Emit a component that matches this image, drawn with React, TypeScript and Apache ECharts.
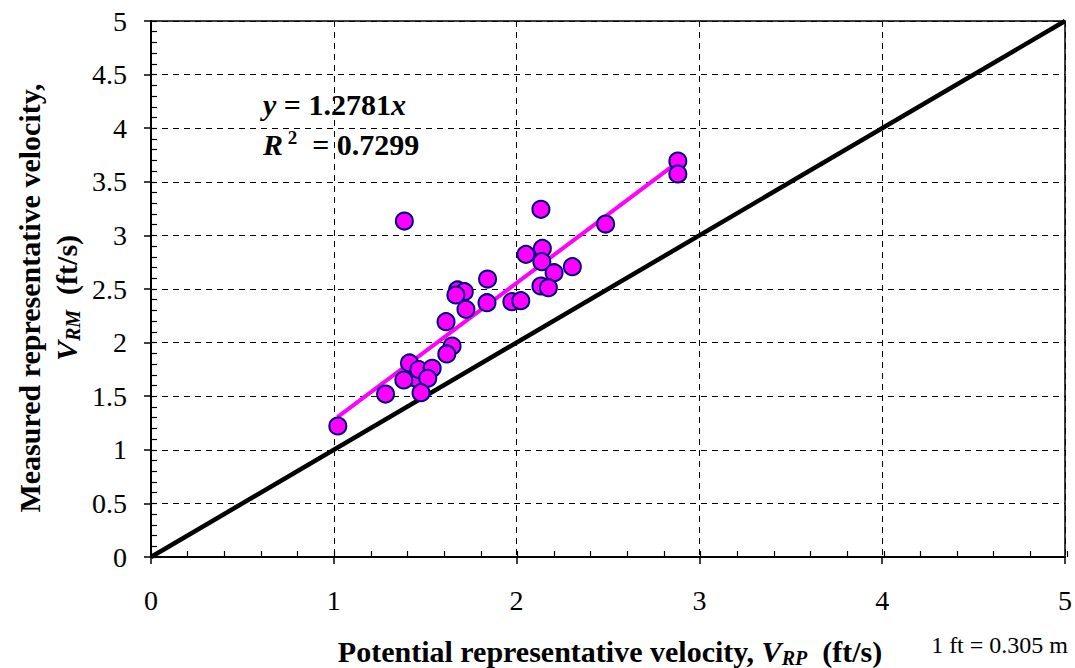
import React, { useEffect, useRef } from "react";
import * as echarts from "echarts";

const xTicks = [0, 1, 2, 3, 4, 5];
const yTicks = [0, 0.5, 1, 1.5, 2, 2.5, 3, 3.5, 4, 4.5, 5];

const measuredPoints: [number, number][] = [
  [1.386, 3.134],
  [2.133, 3.243],
  [2.487, 3.106],
  [2.882, 3.694],
  [2.882, 3.573],
  [2.051, 2.823],
  [2.141, 2.879],
  [2.138, 2.755],
  [2.205, 2.652],
  [2.305, 2.708],
  [1.841, 2.593],
  [1.677, 2.491],
  [1.714, 2.475],
  [1.668, 2.444],
  [1.723, 2.31],
  [1.838, 2.372],
  [1.974, 2.382],
  [2.023, 2.391],
  [2.133, 2.528],
  [2.174, 2.512],
  [1.614, 2.195],
  [1.647, 1.968],
  [1.618, 1.894],
  [1.414, 1.81],
  [1.45, 1.667],
  [1.465, 1.748],
  [1.538, 1.76],
  [1.383, 1.651],
  [1.514, 1.667],
  [1.477, 1.533],
  [1.283, 1.52],
  [1.022, 1.222],
];

const fitLine: [number, number][] = [
  [1.02, 1.304],
  [2.88, 3.681],
];

const equalityLine: [number, number][] = [
  [0, 0],
  [5, 5],
];

const FONT = "Liberation Serif, Times New Roman, serif";
const TITLE = 30;
const TICK = 28;

export default function App() {
  const ref = useRef<HTMLDivElement>(null);

  useEffect(() => {
    if (!ref.current) return;
    const chart = echarts.init(ref.current, undefined, { renderer: "svg" });

    const ital = { fontFamily: FONT, fontSize: TITLE, fontWeight: "bold", fontStyle: "italic", fill: "#000" };
    const bold = { fontFamily: FONT, fontSize: TITLE, fontWeight: "bold", fill: "#000" };
    const sub = { fontFamily: FONT, fontSize: 20, fontWeight: "bold", fontStyle: "italic", fill: "#000", padding: [14, 0, 0, 0] };

    const gridRect = { left: 151, right: 8, top: 21, bottom: 111 };

    chart.setOption({
      animation: false,
      backgroundColor: "#fff",
      grid: [
        { ...gridRect, show: true, borderColor: "#000", borderWidth: 1.5 },
        { ...gridRect, show: false },
      ],
      xAxis: [
        {
          type: "value",
          gridIndex: 0,
          min: xTicks[0],
          max: xTicks[xTicks.length - 1],
          interval: 1,
          position: "bottom",
          axisLine: { show: true, onZero: false, lineStyle: { color: "#000", width: 2 } },
          axisTick: { show: true, inside: false, length: 7, lineStyle: { color: "#000", width: 1.5 } },
          axisLabel: { color: "#000", fontFamily: FONT, fontSize: TICK, margin: 29 },
          splitLine: { show: true, lineStyle: { color: "#000", type: [6, 5], width: 1 } },
        },
        {
          type: "value",
          gridIndex: 1,
          min: 0,
          max: 5,
          interval: 0.2,
          position: "bottom",
          axisLine: { show: false, onZero: false },
          axisTick: { show: true, inside: true, length: 6, lineStyle: { color: "#000", width: 1.2 } },
          axisLabel: { show: false },
          splitLine: { show: false },
        },
      ],
      yAxis: [
        {
          type: "value",
          gridIndex: 0,
          min: yTicks[0],
          max: yTicks[yTicks.length - 1],
          interval: 0.5,
          position: "left",
          axisLine: { show: true, onZero: false, lineStyle: { color: "#000", width: 2 } },
          axisTick: { show: true, inside: false, length: 7, lineStyle: { color: "#000", width: 1.5 } },
          axisLabel: { color: "#000", fontFamily: FONT, fontSize: TICK, margin: 24 },
          splitLine: { show: true, lineStyle: { color: "#000", type: [6, 5], width: 1 } },
        },
        {
          type: "value",
          gridIndex: 1,
          min: 0,
          max: 5,
          interval: 0.1,
          position: "left",
          axisLine: { show: false, onZero: false },
          axisTick: { show: true, inside: true, length: 6, lineStyle: { color: "#000", width: 1.2 } },
          axisLabel: { show: false },
          splitLine: { show: false },
        },
      ],
      series: [
        {
          type: "line",
          xAxisIndex: 0,
          yAxisIndex: 0,
          data: equalityLine,
          showSymbol: false,
          symbol: "none",
          lineStyle: { color: "#000", width: 4.5 },
          z: 3,
        },
        {
          type: "line",
          xAxisIndex: 0,
          yAxisIndex: 0,
          data: fitLine,
          showSymbol: false,
          symbol: "none",
          lineStyle: { color: "#FF00FF", width: 4 },
          z: 4,
        },
        {
          type: "scatter",
          xAxisIndex: 0,
          yAxisIndex: 0,
          data: measuredPoints,
          symbol: "circle",
          symbolSize: 17,
          itemStyle: { color: "#FF00FF", borderColor: "#000080", borderWidth: 2, opacity: 1 },
          z: 5,
        },
      ],
      graphic: [
        {
          type: "text",
          left: 263,
          top: 89,
          style: {
            text: "{i|y}{b| = 1.2781}{i|x}",
            rich: { i: ital, b: bold },
          },
        },
        {
          type: "text",
          left: 263,
          top: 128,
          style: {
            text: "{i|R}{sup| 2}{b|  = 0.7299}",
            rich: {
              i: ital,
              sup: { fontFamily: FONT, fontSize: 19, fontWeight: "bold", fill: "#000", padding: [0, 0, 14, 0] },
              b: bold,
            },
          },
        },
        {
          type: "text",
          x: 29,
          y: 298,
          rotation: Math.PI / 2,
          style: {
            text: "Measured representative velocity,",
            fontFamily: FONT,
            fontSize: TITLE,
            fontWeight: "bold",
            fill: "#000",
            align: "center",
            verticalAlign: "middle",
          },
        },
        {
          type: "text",
          x: 66,
          y: 298,
          rotation: Math.PI / 2,
          style: {
            text: "{i|V}{sub|RM}{b|  (ft/s)}",
            rich: { i: ital, sub, b: bold },
            align: "center",
            verticalAlign: "middle",
          },
        },
        {
          type: "text",
          x: 610,
          y: 651,
          style: {
            text: "{b|Potential representative velocity, }{i|V}{sub|RP}{b|  (ft/s)}",
            rich: { i: ital, sub, b: bold },
            align: "center",
            verticalAlign: "middle",
          },
        },
        {
          type: "text",
          x: 1068,
          y: 645,
          style: {
            text: "1 ft = 0.305 m",
            fontFamily: FONT,
            fontSize: 24,
            fill: "#000",
            align: "right",
            verticalAlign: "middle",
          },
        },
      ],
    });

    return () => {
      chart.dispose();
    };
  }, []);

  return (
    <div
      ref={ref}
      style={{ position: "fixed", left: 0, top: 0, width: 1075, height: 668 }}
    />
  );
}
